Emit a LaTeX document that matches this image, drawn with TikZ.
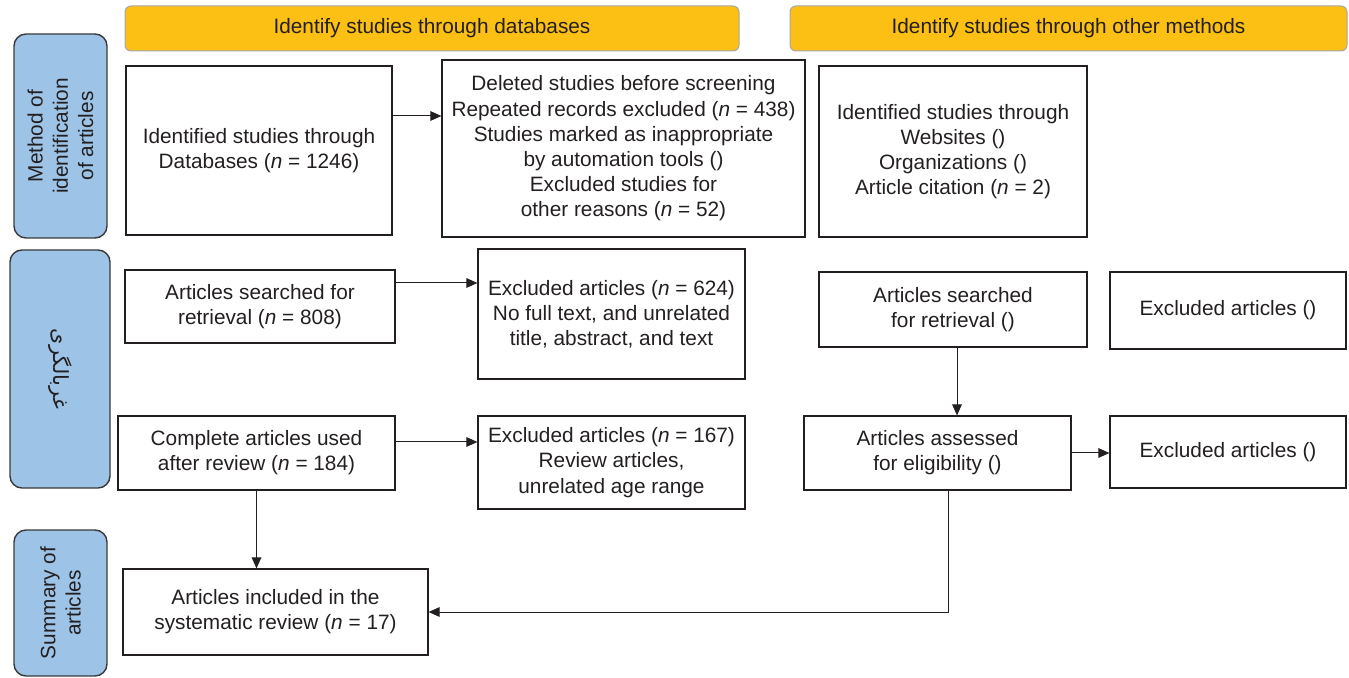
\documentclass[tikz,border=0pt]{standalone}
\usepackage{fontspec}
\setmainfont{Liberation Sans}
\newfontfamily\arabicfont[Script=Arabic]{DejaVu Sans}
\TeXXeTstate=1
\usepackage{tikz}
\usetikzlibrary{arrows.meta}
\definecolor{hdrfill}{HTML}{FCC015}
\definecolor{hdrline}{HTML}{A6A6A6}
\definecolor{sidefill}{HTML}{9DC3E6}
\definecolor{sideline}{HTML}{3A3A3A}
\definecolor{ink}{HTML}{231F20}

\begin{document}
\begin{tikzpicture}[x=0.5pt, y=-0.5pt,
    every node/.style={font=\fontsize{10.4}{12.6}\selectfont, text=ink, align=center, inner sep=0pt},
    sz/.style 2 args={minimum width=#1*0.5pt, minimum height=#2*0.5pt},
    box/.style={draw=ink, line width=0.6pt},
    hdr/.style={draw=hdrline, fill=hdrfill, line width=0.5pt, rounded corners=3pt},
    side/.style={draw=sideline, fill=sidefill, line width=0.7pt, rounded corners=6pt},
    arr/.style={draw=ink, line width=0.5pt, -{Triangle[length=5.5pt, width=4.8pt]}}]
                \useasboundingbox (0,0) rectangle (1349,678);

                % Headers
                \node[hdr, sz={614}{45}] (hdrdb) at (432,28.5) {Identify studies through databases};
                \node[hdr, sz={557}{45}] (hdrother) at (1068.5,28.5) {Identify studies through other methods};

                % Phase labels on the left
                \node[side, rotate=90, sz={204}{93}] (phaseid) at (60.5,136) {Method of\\identification\\of articles};
                \node[side, rotate=-90, sz={238}{100}] (phasescr) at (60,369) {\arabicfont\beginR غربالگری\endR};
                \node[side, rotate=90, sz={146}{93}] (phasesum) at (60.5,603) {Summary of\\articles};

                % Identification
                \node[box, sz={266}{169}] (dbident) at (259,150.5) {Identified studies through\\Databases (\textit{n} = 1246)};
                \node[box, sz={363}{177}] (dbdel) at (623.5,148.5) {Deleted studies before screening\\Repeated records excluded (\textit{n} = 438)\\Studies marked as inappropriate\\by automation tools ()\\Excluded studies for\\other reasons (\textit{n} = 52)};
                \node[box, sz={268}{171}] (otherident) at (953,151.5) {Identified studies through\\Websites ()\\Organizations ()\\Article citation (\textit{n} = 2)};

                % Screening
                \node[box, sz={270}{73}] (dbsearch) at (260,306.5) {Articles searched for\\retrieval (\textit{n} = 808)};
                \node[box, sz={267}{130}] (dbexcl) at (611.5,314) {Excluded articles (\textit{n} = 624)\\No full text, and unrelated\\title, abstract, and text};
                \node[box, sz={268}{75}] (othersearch) at (953,309.5) {Articles searched\\for retrieval ()};
                \node[box, sz={236}{77}] (otherexcl) at (1228,310.5) {Excluded articles ()};

                \node[box, sz={277}{74}] (dbfull) at (256.5,453) {Complete articles used\\after review (\textit{n} = 184)};
                \node[box, sz={267}{93}] (dbfullexcl) at (611.5,462.5) {Excluded articles (\textit{n} = 167)\\Review articles,\\unrelated age range};
                \node[box, sz={267}{74}] (othereligible) at (937.5,453) {Articles assessed\\for eligibility ()};
                \node[box, sz={236}{72}] (othereligexcl) at (1228,452) {Excluded articles ()};

                % Included
                \node[box, sz={305}{86}] (included) at (275.5,612) {Articles included in the\\systematic review (\textit{n} = 17)};

                % Connectors
                \draw[arr] (dbident.east |- 0,116) -- (dbdel.west |- 0,116);
                \draw[arr] (dbsearch.east |- 0,283) -- (dbexcl.west |- 0,283);
                \draw[arr] (dbfull.east |- 0,442) -- (dbfullexcl.west |- 0,442);
                \draw[arr] (dbfull.south) -- (included.north -| dbfull.south);
                \draw[arr] (othersearch.south -| 957,0) -- (othereligible.north -| 957,0);
                \draw[arr] (othereligible.east) -- (othereligexcl.west |- othereligible.east);
                \draw[arr] (othereligible.south -| 948,0) |- (included.east);
            \end{tikzpicture}
\end{document}
